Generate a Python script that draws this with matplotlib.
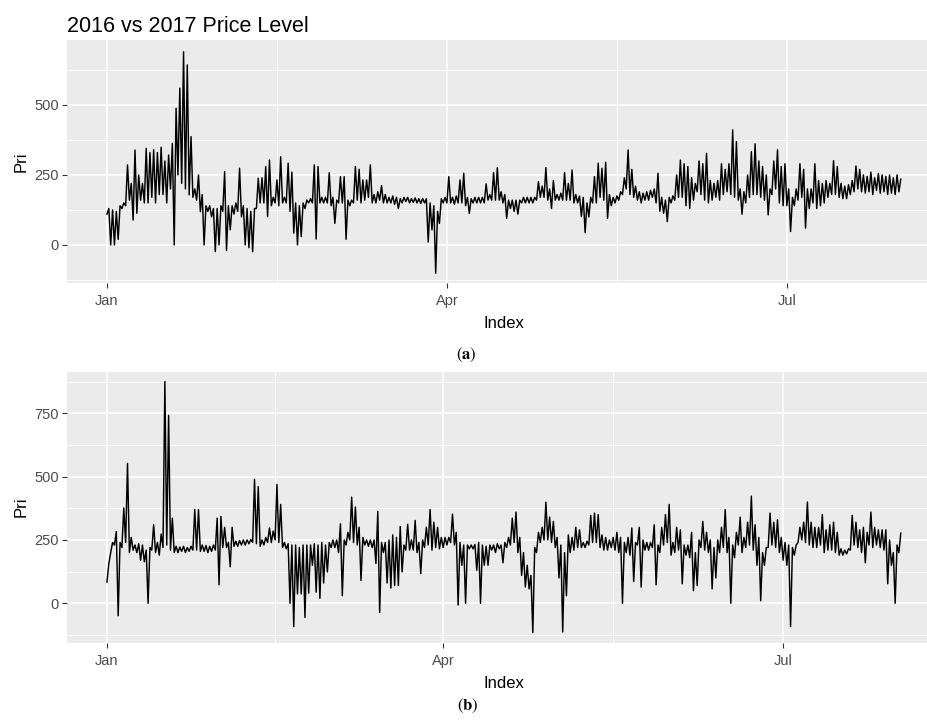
import numpy as np
import pandas as pd
import matplotlib
matplotlib.use('Agg')
import matplotlib.pyplot as plt
import matplotlib.dates as mdates

plt.rcParams['font.family'] = 'Liberation Sans'
plt.rcParams['mathtext.fontset'] = 'stix'

# daily low / high price, index = days since Jan 1
lows_2016 = [110, 0, 0, 20, 130, 140, 160, 89, 113, 160,
	150, 150, 170, 150, 180, 180, 150, 200, 0, 250,
	220, 200, 179, 170, 160, 119, 0, 120, 100, -24,
	0, 120, -20, 54, 110, 120, 100, 0, -10, -24,
	130, 150, 150, 101, 140, 150, 140, 150, 150, 120,
	42, 0, 30, 130, 150, 150, 21, 150, 150, 150,
	140, 77, 150, 150, 20, 140, 150, 160, 150, 160,
	170, 150, 150, 160, 150, 150, 150, 145, 130, 150,
	155, 150, 152, 150, 148, 150, 10, 54, -101, 77,
	150, 150, 150, 145, 150, 150, 140, 113, 150, 150,
	150, 150, 160, 160, 160, 160, 150, 95, 130, 120,
	110, 150, 150, 150, 150, 160, 170, 170, 160, 130,
	160, 160, 160, 160, 160, 150, 150, 101, 44, 100,
	150, 150, 170, 160, 95, 140, 150, 160, 180, 200,
	180, 170, 160, 150, 160, 160, 170, 150, 120, 113,
	83, 150, 160, 170, 170, 140, 130, 160, 190, 180,
	160, 150, 160, 170, 160, 180, 190, 180, 170, 160,
	110, 150, 170, 180, 180, 170, 160, 107, 180, 200,
	150, 140, 140, 48, 140, 160, 170, 60, 130, 150,
	130, 140, 150, 170, 180, 180, 170, 165, 165, 180,
	190, 200, 190, 185, 190, 180, 195, 185, 190, 180,
	185, 180, 190]

highs_2016 = [130, 125, 120, 140, 150, 286, 220, 339, 250, 220,
	345, 330, 340, 330, 349, 300, 321, 363, 488, 560,
	690, 643, 387, 200, 250, 180, 140, 140, 130, 130,
	140, 262, 140, 140, 150, 274, 140, 130, 120, 130,
	238, 240, 280, 303, 170, 232, 315, 170, 292, 260,
	150, 140, 150, 160, 165, 286, 280, 170, 170, 258,
	170, 160, 244, 244, 160, 160, 280, 270, 232, 232,
	286, 180, 190, 212, 180, 170, 175, 170, 165, 170,
	170, 165, 168, 165, 166, 165, 150, 140, 120, 165,
	170, 244, 170, 175, 232, 256, 170, 165, 170, 170,
	170, 218, 180, 258, 276, 190, 180, 160, 160, 160,
	160, 170, 170, 170, 170, 226, 210, 276, 200, 230,
	180, 185, 258, 220, 268, 180, 175, 170, 150, 170,
	244, 292, 274, 295, 180, 170, 175, 190, 240, 339,
	270, 210, 190, 185, 190, 195, 200, 256, 170, 160,
	170, 175, 250, 303, 290, 280, 240, 220, 300, 290,
	327, 230, 220, 230, 290, 270, 290, 411, 369, 200,
	190, 250, 333, 361, 300, 280, 250, 200, 300, 340,
	280, 290, 200, 170, 200, 290, 270, 200, 200, 290,
	230, 220, 230, 220, 301, 280, 220, 210, 215, 230,
	282, 270, 250, 245, 260, 240, 255, 250, 245, 250,
	240, 250, 235]

lows_2017 = [84, 200, 230, -49, 220, 240, 200, 210, 200, 170,
	164, 0, 210, 200, 190, 220, 230, 210, 200, 200,
	205, 200, 205, 210, 210, 205, 205, 200, 205, 210,
	73, 220, 220, 144, 225, 225, 230, 230, 235, 240,
	235, 225, 230, 240, 240, 250, 240, 220, 215, 0,
	-92, 37, 37, -56, 40, 150, 44, 20, 80, 124,
	220, 220, 200, 30, 230, 250, 240, 230, 90, 230,
	225, 220, 157, -36, 200, 80, 60, 70, 70, 124,
	210, 210, 210, 200, 117, 220, 230, 210, 220, 215,
	220, 230, 240, 230, -7, 150, 0, 215, 215, 130,
	0, 150, 150, 210, 200, 215, 160, 220, 230, 240,
	200, 110, 64, 57, -116, 200, 240, 250, 250, 240,
	220, 100, -113, 30, 200, 210, 220, 220, 220, 230,
	240, 240, 220, 210, 210, 220, 210, 200, 0, 200,
	190, 86, 230, 64, 210, 210, 220, 73, 200, 230,
	240, 190, 200, 210, 77, 190, 180, 50, 70, 220,
	210, 200, 57, 100, 200, 220, 200, 0, 180, 230,
	200, 220, 230, 210, 150, 10, 150, 220, 230, 220,
	200, 170, 150, -92, 190, 240, 250, 240, 230, 220,
	220, 230, 200, 210, 210, 200, 190, 190, 195, 210,
	230, 220, 200, 160, 230, 220, 230, 220, 210, 77,
	150, 0, 200]

highs_2017 = [157, 240, 283, 240, 376, 552, 260, 230, 235, 230,
	210, 220, 310, 240, 273, 875, 742, 336, 225, 222,
	225, 220, 225, 370, 370, 230, 228, 225, 230, 336,
	343, 300, 240, 300, 245, 248, 250, 250, 252, 489,
	460, 250, 260, 297, 285, 469, 390, 240, 235, 230,
	230, 220, 230, 230, 230, 235, 230, 240, 230, 240,
	250, 250, 314, 250, 280, 419, 380, 300, 260, 250,
	250, 250, 363, 240, 240, 250, 270, 260, 303, 230,
	312, 250, 327, 240, 250, 300, 370, 320, 300, 260,
	260, 260, 352, 280, 240, 230, 230, 230, 232, 240,
	230, 225, 230, 230, 235, 230, 240, 260, 336, 360,
	260, 200, 150, 110, 220, 280, 300, 399, 340, 323,
	260, 230, 200, 270, 260, 300, 290, 240, 245, 347,
	356, 350, 270, 260, 250, 260, 280, 260, 240, 260,
	297, 240, 300, 250, 240, 240, 310, 230, 300, 350,
	390, 240, 300, 290, 230, 230, 280, 200, 250, 323,
	280, 250, 220, 250, 300, 370, 260, 230, 280, 340,
	260, 320, 423, 310, 260, 200, 220, 356, 320, 330,
	260, 240, 230, 220, 230, 300, 320, 400, 320, 300,
	300, 350, 290, 310, 320, 280, 215, 210, 215, 347,
	320, 290, 300, 280, 360, 300, 290, 290, 290, 250,
	200, 230, 277]


def zigzag(start, lows, highs):

	n = len(lows)
	t = np.empty(2 * n)
	v = np.empty(2 * n)
	t[0::2] = np.arange(n)
	t[1::2] = np.arange(n) + 0.5
	v[0::2] = lows
	v[1::2] = highs
	times = pd.Timestamp(start) + pd.to_timedelta(t, unit='D')
	return times, v


def style_panel(ax, start, yticks, yminor, ylim):

	t0 = pd.Timestamp(start)
	apr = pd.Timestamp(start[:4] + '-04-01')
	jul = pd.Timestamp(start[:4] + '-07-01')
	ax.set_facecolor('#EBEBEB')
	for s in ax.spines.values():
		s.set_visible(False)
	ax.set_xlim(t0 - pd.Timedelta(days=10.7), t0 + pd.Timedelta(days=223))
	ax.set_ylim(ylim)
	ax.xaxis.set_major_locator(mdates.MonthLocator(bymonth=[1, 4, 7]))
	ax.xaxis.set_major_formatter(mdates.DateFormatter('%b'))
	xminor = [t0 + (apr - t0) / 2, apr + (jul - apr) / 2]
	ax.set_xticks(mdates.date2num(xminor), minor=True)
	ax.set_yticks(yticks)
	ax.set_yticks(yminor, minor=True)
	ax.grid(which='major', color='white', linewidth=1.1)
	ax.grid(which='minor', color='white', linewidth=0.55)
	ax.set_axisbelow(True)
	ax.tick_params(which='major', length=3.5, width=0.8, color='#333333',
				labelcolor='#4D4D4D', labelsize=10.5, pad=2.5)
	ax.tick_params(axis='x', which='major', pad=4.5)
	ax.tick_params(which='minor', length=0)
	ax.set_xlabel('Index', fontsize=12, labelpad=6)
	ax.set_ylabel('Pri', fontsize=12, labelpad=4)


fig = plt.figure(figsize=(9.28, 7.22), dpi=100)

ax1 = fig.add_axes([67 / 928, 1 - 283 / 722, 873 / 928, 243 / 722])
x, y = zigzag('2016-01-01', lows_2016, highs_2016)
ax1.plot(x, y, color='black', linewidth=1.05)
style_panel(ax1, '2016-01-01', [0, 250, 500], [-125, 125, 375, 625], (-136, 732))

ax2 = fig.add_axes([67 / 928, 1 - 642.7 / 722, 873 / 928, 271 / 722])
x, y = zigzag('2017-01-01', lows_2017, highs_2017)
ax2.plot(x, y, color='black', linewidth=1.05)
style_panel(ax2, '2017-01-01', [0, 250, 500, 750], [-125, 125, 375, 625, 875], (-155.5, 914))

fig.text(67 / 928, 1 - 31.5 / 722, '2016 vs 2017 Price Level', fontsize=15.5,
		ha='left', va='baseline')
fig.text(466 / 928, 1 - 355 / 722, r'($\mathbf{a}$)', fontsize=12, family='STIXGeneral',
		ha='center', va='center')
fig.text(468 / 928, 1 - 706 / 722, r'($\mathbf{b}$)', fontsize=12, family='STIXGeneral',
		ha='center', va='center')

plt.savefig('out.png', dpi=100)
